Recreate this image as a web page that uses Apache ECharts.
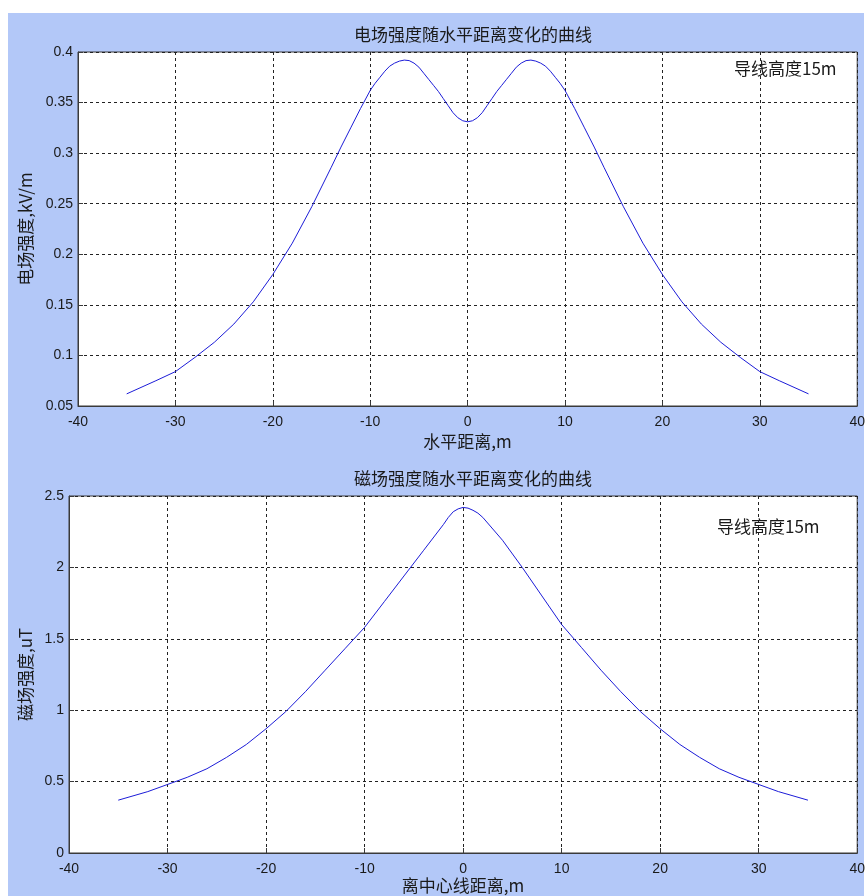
<!DOCTYPE html>
<html>
<head>
<meta charset="utf-8">
<script src="https://cdn.jsdelivr.net/npm/echarts@6/dist/echarts.min.js"></script>
<style>
  html, body { margin: 0; padding: 0; background: #ffffff; }
  #panel { position: absolute; left: 8px; top: 13px; width: 856px; height: 883px; background: #b3c8f8; }
  #chart { position: absolute; left: 0; top: 0; width: 868px; height: 896px; }
</style>
</head>
<body>
<div id="panel"></div>
<div id="chart"></div>
<script>
// Horizontal distance (m) and electric field strength (kV/m) under the line
const xE = [-35, -32, -30, -28, -26, -24, -22, -20, -18, -16, -14, -13, -12, -11,
            -10, -9.5, -9, -8.5, -8, -7.5, -7, -6.5, -6, -5.5, -5, -4.5, -4, -3.5, -3, -2.5, -2, -1.5, -1, -0.5, 0,
            0.5, 1, 1.5, 2, 2.5, 3, 3.5, 4, 4.5, 5, 5.5, 6, 6.5, 7, 7.5, 8, 8.5, 9, 9.5, 10,
            11, 12, 13, 14, 16, 18, 20, 22, 24, 26, 28, 30, 32, 35];
const eField = [0.062, 0.075, 0.084, 0.098, 0.113, 0.131, 0.153, 0.180, 0.211, 0.247, 0.286, 0.306, 0.325, 0.344,
                0.362, 0.369, 0.375, 0.381, 0.386, 0.389, 0.391, 0.392, 0.3915, 0.389, 0.385, 0.379, 0.373, 0.367, 0.361, 0.354, 0.347, 0.340, 0.335, 0.332, 0.331,
                0.332, 0.335, 0.340, 0.347, 0.354, 0.361, 0.367, 0.373, 0.379, 0.385, 0.389, 0.3915, 0.392, 0.391, 0.389, 0.386, 0.381, 0.375, 0.369, 0.362,
                0.344, 0.325, 0.306, 0.286, 0.247, 0.211, 0.180, 0.153, 0.131, 0.113, 0.098, 0.084, 0.075, 0.062];

// Distance from the centre line (m) and magnetic field strength (uT)
const xB = [-35, -32, -30, -28, -26, -24, -22, -20, -18, -16, -14, -12, -10, -8, -6, -4, -2, -1.5, -1, -0.5, 0,
            0.5, 1, 1.5, 2, 4, 6, 8, 10, 12, 14, 16, 18, 20, 22, 24, 26, 28, 30, 32, 35];
const bField = [0.37, 0.43, 0.48, 0.53, 0.59, 0.67, 0.76, 0.87, 0.99, 1.13, 1.28, 1.43, 1.58, 1.76, 1.94, 2.12, 2.30, 2.35, 2.39, 2.41, 2.42,
                2.415, 2.40, 2.38, 2.35, 2.19, 2.00, 1.80, 1.60, 1.44, 1.28, 1.13, 0.99, 0.87, 0.76, 0.67, 0.59, 0.53, 0.48, 0.43, 0.37];

const xTicks = { min: -40, max: 40, interval: 10 };
const eTicks = { min: 0.05, max: 0.4, interval: 0.05 };
const bTicks = { min: 0, max: 2.5, interval: 0.5 };

const titles = ['电场强度随水平距离变化的曲线', '磁场强度随水平距离变化的曲线'];
const xNames = ['水平距离,m', '离中心线距离,m'];
const yNames = ['电场强度,kV/m', '磁场强度,uT'];
const note = '导线高度15m';

const cjk = "'Noto Sans CJK SC', sans-serif";
const num = "'Liberation Sans', Arial, sans-serif";
const ink = '#1a1a1a';
const frame = '#3a3a3a';
const lineBlue = '#1c1cd8';
const cjkSize = 17;

function xAxisOf(idx, name, gap) {
  return {
    type: 'value', gridIndex: idx, min: xTicks.min, max: xTicks.max, interval: xTicks.interval,
    name: name, nameLocation: 'middle', nameGap: gap,
    nameTextStyle: { fontFamily: cjk, fontSize: cjkSize, color: ink },
    axisLine: { show: true, onZero: false, lineStyle: { color: frame, width: 1 } },
    axisTick: { show: true, inside: true, length: 5, lineStyle: { color: frame } },
    axisLabel: { fontFamily: num, fontSize: 14, color: ink, margin: 9 },
    splitLine: { show: true, lineStyle: { color: '#222', width: 1, type: [3, 3] } }
  };
}
function yAxisOf(idx, ticks, name, gap) {
  return {
    type: 'value', gridIndex: idx, min: ticks.min, max: ticks.max, interval: ticks.interval,
    name: name, nameLocation: 'middle', nameGap: gap, nameRotate: 90,
    nameTextStyle: { fontFamily: cjk, fontSize: cjkSize, color: ink },
    axisLine: { show: true, onZero: false, lineStyle: { color: frame, width: 1 } },
    axisTick: { show: true, inside: true, length: 5, lineStyle: { color: frame } },
    axisLabel: { fontFamily: num, fontSize: 14, color: ink, margin: 5 },
    splitLine: { show: true, lineStyle: { color: '#222', width: 1, type: [3, 3] } }
  };
}

const chart = echarts.init(document.getElementById('chart'), null, { renderer: 'canvas' });
chart.setOption({
  backgroundColor: 'transparent',
  animation: false,
  title: [
    { text: titles[0], left: 468, top: 21, textAlign: 'center',
      textStyle: { fontFamily: cjk, fontSize: cjkSize, fontWeight: 'normal', color: ink } },
    { text: titles[1], left: 468, top: 465, textAlign: 'center',
      textStyle: { fontFamily: cjk, fontSize: cjkSize, fontWeight: 'normal', color: ink } },
    { text: note, left: 729, top: 55,
      textStyle: { fontFamily: cjk, fontSize: cjkSize, fontWeight: 'normal', color: ink } },
    { text: note, left: 712, top: 513,
      textStyle: { fontFamily: cjk, fontSize: cjkSize, fontWeight: 'normal', color: ink } }
  ],
  grid: [
    { left: 78, top: 52, width: 780, height: 354, show: true, backgroundColor: '#ffffff',
      borderColor: frame, borderWidth: 1 },
    { left: 69, top: 496, width: 789, height: 357, show: true, backgroundColor: '#ffffff',
      borderColor: frame, borderWidth: 1 }
  ],
  xAxis: [xAxisOf(0, xNames[0], 27), xAxisOf(1, xNames[1], 24)],
  yAxis: [yAxisOf(0, eTicks, yNames[0], 44), yAxisOf(1, bTicks, yNames[1], 35)],
  series: [
    { type: 'line', xAxisIndex: 0, yAxisIndex: 0, smooth: false, showSymbol: false,
      lineStyle: { color: lineBlue, width: 1 },
      data: xE.map((x, i) => [x, eField[i]]) },
    { type: 'line', xAxisIndex: 1, yAxisIndex: 1, smooth: false, showSymbol: false,
      lineStyle: { color: lineBlue, width: 1 },
      data: xB.map((x, i) => [x, bField[i]]) }
  ]
});
</script>
</body>
</html>
